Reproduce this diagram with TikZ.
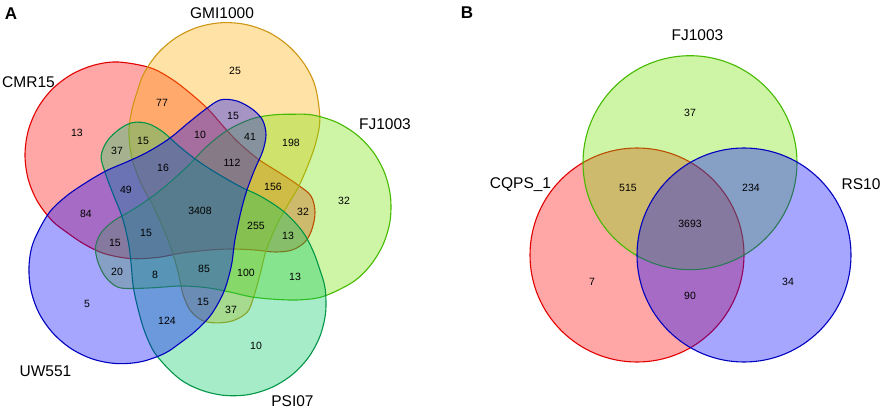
\documentclass[tikz,border=0pt]{standalone}
\usepackage{fontspec}
\setmainfont{Liberation Sans}
\definecolor{redF}{RGB}{255,0,0}
\definecolor{redD}{RGB}{225,0,0}
\definecolor{yelF}{RGB}{255,175,0}
\definecolor{yelD}{RGB}{205,150,20}
\definecolor{fjF}{RGB}{115,225,0}
\definecolor{fjD}{RGB}{70,185,0}
\definecolor{psiF}{RGB}{0,200,100}
\definecolor{psiD}{RGB}{0,150,70}
\definecolor{bluF}{RGB}{0,0,255}
\definecolor{bluD}{RGB}{0,0,190}
\begin{document}
\begin{tikzpicture}[x=1pt,y=-1pt,
  num/.style={font=\fontsize{10.5}{12}\selectfont, inner sep=0pt, text height=7.6pt, text depth=0pt},
  setlabel/.style={font=\fontsize{15.5}{18}\selectfont, inner sep=0pt, text height=11.1pt, text depth=0pt},
  panel/.style={font=\bfseries\fontsize{17}{20}\selectfont, inner sep=0pt, text height=12.2pt, text depth=0pt},
  vset/.style={line width=1.1pt, fill opacity=0.35, draw opacity=1},
]
\useasboundingbox (0,0) rectangle (886,409);
% ---------- Panel A : five-set diagram ----------
\coordinate (D) at (199.6,210.2);
\foreach \ang/\fc/\dc in {0/redF/redD, -72/yelF/yelD, -144/fjF/fjD, -216/psiF/psiD, -288/bluF/bluD}{
  \path[vset, fill=\fc, draw=\dc, rotate around={\ang:(D)}]
    plot[smooth cycle, tension=0.55] coordinates {
      (118,62) (149.8,67.6) (171.3,78.8) (190,93) (208,109) (223,126) (238,142)
      (258,159) (280,173) (298,185) (311,196) (315,212) (312,229) (305,242)
      (292,250) (275,252) (255,250) (232,249) (210,250) (182,253) (157,257.5)
      (130,258.5) (104,253.5) (84,244) (67,232.5) (52.2,220.8) (37.5,201.5)
      (28.2,179.1) (25,155) (28.2,130.9) (37.5,108.5) (52.2,89.2) (71.5,74.5)
      (93.9,65.2)};
}
\node[panel] (lA) at (11,13) {A};
\node[setlabel] (gmi) at (222,12.5) {GMI1000};
\node[setlabel] (cmr) at (28.5,81.5) {CMR15};
\node[setlabel] (fja) at (385,123.5) {FJ1003};
\node[setlabel] (uw) at (45.5,371) {UW551};
\node[setlabel] (psi) at (292.5,400.5) {PSI07};
\foreach \n/\x/\y in {a1/77/133, a2/162/103, a3/235/71, a4/233/116, a5/200/135,
  a6/250/137, a7/291/143, a8/117/151, a9/143/141, a10/163/168, a11/232/163,
  a12/273/187, a13/126/190, a14/86/214, a15/200/211, a16/303/212, a17/256/226,
  a18/288/236, a19/146/233, a20/115/243, a21/117/272, a22/155/275, a23/204/269,
  a24/246/273, a25/295/277, a26/203/302, a27/231/310, a28/167/321, a29/256/346,
  a30/87/304, a31/344/201}{
  \coordinate (\n) at (\x,\y);
}
\foreach \n/\t in {a1/13, a2/77, a3/25, a4/15, a5/10, a6/41, a7/198, a8/37, a9/15,
  a10/16, a11/112, a12/156, a13/49, a14/84, a15/3408, a16/32, a17/255, a18/13,
  a19/15, a20/15, a21/20, a22/8, a23/85, a24/100, a25/13, a26/15, a27/37,
  a28/124, a29/10, a30/5, a31/32}{
  \node[num] (t\n) at (\n) {\t};
}
% ---------- Panel B : three-set diagram ----------
\path[vset, fill=redF, draw=redD] (637,255) circle[radius=107];
\path[vset, fill=fjF, draw=fjD] (690,162.7) circle[radius=107];
\path[vset, fill=bluF, draw=bluD] (744,255) circle[radius=107];
\node[panel] (lB) at (467,12) {B};
\node[setlabel] (fjb) at (697.5,34.7) {FJ1003};
\node[setlabel] (cqps) at (520.5,182.5) {CQPS\_1};
\node[setlabel] (rs) at (861,183.5) {RS10};
\node[num] (b1) at (690,113) {37};
\node[num] (b2) at (628,188) {515};
\node[num] (b3) at (751,188) {234};
\node[num] (b4) at (690,224) {3693};
\node[num] (b5) at (592,282) {7};
\node[num] (b6) at (690,296) {90};
\node[num] (b7) at (788,282) {34};
\end{tikzpicture}
\end{document}
